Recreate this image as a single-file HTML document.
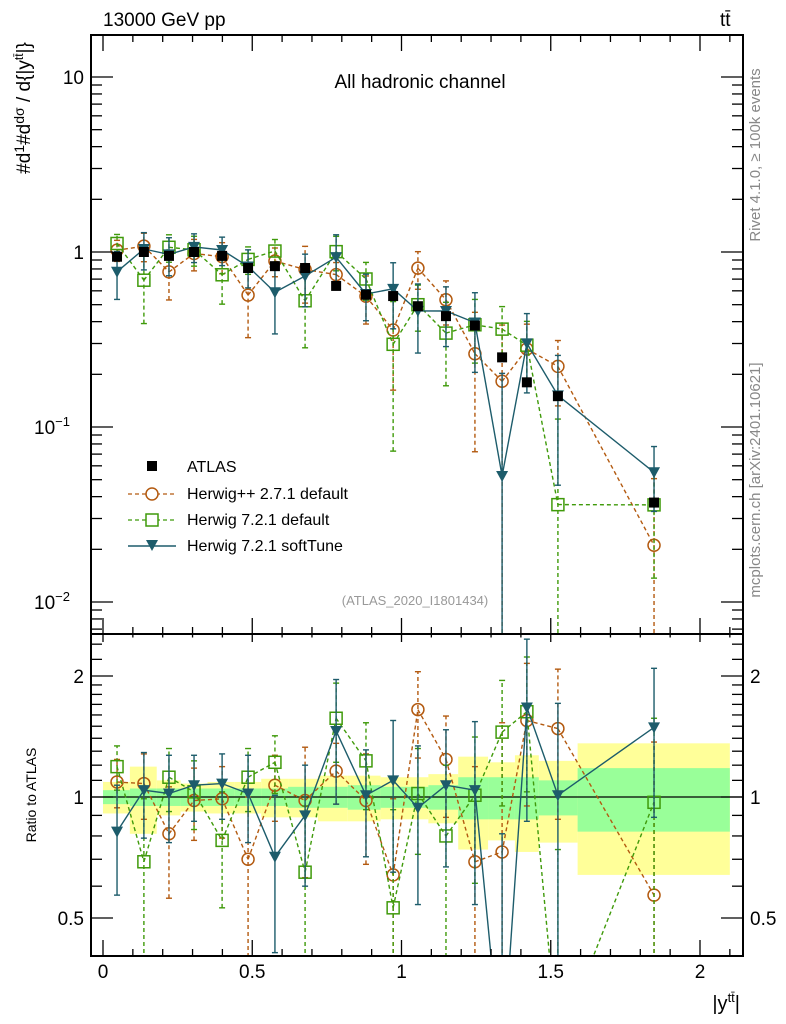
<!DOCTYPE html>
<html><head><meta charset="utf-8"><style>
html,body{margin:0;padding:0;background:#fff;width:786px;height:1024px;overflow:hidden;}
svg{display:block;font-family:"Liberation Sans",sans-serif;}
</style></head><body>
<svg id="c" width="786" height="1024" viewBox="0 0 786 1024">
<defs>
<clipPath id="cu"><rect x="91" y="35" width="652" height="599"/></clipPath>
<clipPath id="cl"><rect x="91" y="634" width="652" height="322"/></clipPath>
</defs>
<g id="bands" clip-path="url(#cl)"></g>
<g id="upper" clip-path="url(#cu)"></g>
<g id="lower" clip-path="url(#cl)"></g>
<g id="axes"></g>
<text x="103" y="26" font-size="19">13000 GeV pp</text>
<text x="720" y="26" font-size="19">tt̄</text>
<text x="420" y="88" font-size="19" text-anchor="middle">All hadronic channel</text>
<text x="415" y="605" font-size="13" fill="#999" text-anchor="middle">(ATLAS_2020_I1801434)</text>
<text transform="translate(760,155) rotate(-90)" font-size="15" fill="#888" text-anchor="middle">Rivet 4.1.0, ≥ 100k events</text>
<text transform="translate(760,480) rotate(-90)" font-size="15" fill="#888" text-anchor="middle">mcplots.cern.ch [arXiv:2401.10621]</text>
<text transform="translate(30,108) rotate(-90)" font-size="19" text-anchor="middle">#d<tspan font-size="14" dy="-6">1</tspan><tspan dy="6">#d</tspan><tspan font-size="14" dy="-6">dσ</tspan><tspan dy="6"> / d{|y</tspan><tspan font-size="12" dy="-7">tt̄</tspan><tspan dy="7">|}</tspan></text>
<text transform="translate(36,795) rotate(-90)" font-size="14" text-anchor="middle">Ratio to ATLAS</text>
<text x="740" y="1010" font-size="20" text-anchor="end">|y<tspan font-size="13" dy="-8">tt̄</tspan><tspan dy="8">|</tspan></text>
<g>
<rect x="147" y="461" width="10" height="10" fill="#000"/>
<text x="187" y="472" font-size="16">ATLAS</text>
<line x1="128" y1="494" x2="176" y2="494" stroke="#b35a10" stroke-dasharray="4,3" stroke-width="1.3"/>
<circle cx="152" cy="494" r="6" fill="#fff" stroke="#b35a10" stroke-width="1.5"/>
<text x="187" y="499" font-size="16">Herwig++ 2.7.1 default</text>
<line x1="128" y1="520" x2="176" y2="520" stroke="#3f9a0a" stroke-dasharray="4,3" stroke-width="1.3"/>
<rect x="146" y="514" width="12" height="12" fill="#fff" stroke="#3f9a0a" stroke-width="1.5"/>
<text x="187" y="525" font-size="16">Herwig 7.2.1 default</text>
<line x1="128" y1="546" x2="176" y2="546" stroke="#1d5c6b" stroke-width="1.5"/>
<path d="M146,540 L158,540 L152,551 Z" fill="#1d5c6b"/>
<text x="187" y="551" font-size="16">Herwig 7.2.1 softTune</text>
</g>
</svg>
<script>
const xCenters=[0.047,0.137,0.221,0.305,0.399,0.486,0.576,0.677,0.781,0.881,0.972,1.055,1.149,1.246,1.337,1.42,1.524,1.846];
const binEdges=[0,0.09,0.18,0.26,0.35,0.44,0.53,0.62,0.72,0.82,0.93,1.0,1.09,1.19,1.29,1.38,1.46,1.59,2.1];
const atlas=[0.94,1.0,0.95,1.0,0.95,0.81,0.83,0.81,0.64,0.57,0.56,0.49,0.43,0.38,0.25,0.18,0.15,0.037];
const statBand=[0.04,0.05,0.05,0.05,0.05,0.05,0.05,0.06,0.06,0.07,0.06,0.06,0.07,0.12,0.12,0.12,0.1,0.18];
const totBand=[0.09,0.19,0.1,0.08,0.09,0.09,0.11,0.11,0.13,0.13,0.12,0.12,0.14,0.26,0.22,0.27,0.23,0.36];
const ratioHpp=[1.09,1.08,0.81,0.98,0.99,0.70,1.07,0.98,1.16,0.98,0.64,1.65,1.24,0.69,0.73,1.55,1.48,0.57];
const errHpp=[0.15,0.2,0.25,0.2,0.2,0.3,0.2,0.35,0.2,0.3,0.35,0.4,0.35,0.5,0.8,0.6,0.6,0.8];
const ratioH7=[1.19,0.69,1.12,1.03,0.78,1.12,1.22,0.65,1.57,1.23,0.53,1.02,0.80,1.01,1.45,1.63,0.24,0.97];
const errH7=[0.15,0.3,0.2,0.2,0.25,0.2,0.2,0.3,0.35,0.3,0.4,0.3,0.4,0.4,0.5,0.6,0.5,0.6];
const ratioSoft=[0.82,1.04,1.02,1.07,1.08,1.02,0.71,0.90,1.46,1.01,1.10,0.94,1.07,1.04,0.21,1.67,1.01,1.49];
const errSoft=[0.25,0.25,0.25,0.2,0.2,0.25,0.3,0.3,0.5,0.3,0.45,0.4,0.4,0.5,0.6,0.8,0.7,0.6];
const xTicks=[0,0.5,1,1.5,2];
const xTickLabels=["0","0.5","1","1.5","2"];
const yTicks=[10,1,0.1,0.01];
const ratioTicks=[2,1,0.5];
const ratioTickLabels=["2","1","0.5"];

const NS="http://www.w3.org/2000/svg";
const X=v=>103+v*298.5;
const YU=v=>252-Math.log10(v)*175;
const YR=v=>797-Math.log2(v)*121;
const clampY=(y,lo,hi)=>Math.max(lo,Math.min(hi,y));
function mk(tag,attrs,parent){const e=document.createElementNS(NS,tag);for(const k in attrs)e.setAttribute(k,attrs[k]);parent.appendChild(e);return e;}
const gB=document.getElementById('bands'),gU=document.getElementById('upper'),gL=document.getElementById('lower'),gA=document.getElementById('axes');

for(let i=0;i<xCenters.length;i++){
  const x0=X(binEdges[i]),x1=X(binEdges[i+1]);
  const y=mk('rect',{x:x0,y:YR(1+totBand[i]),width:x1-x0,height:YR(1-totBand[i])-YR(1+totBand[i]),fill:'#ffff99'},gB);
  
  
}
for(let i=0;i<xCenters.length;i++){
  const x0=X(binEdges[i]),x1=X(binEdges[i+1]);
  const g=mk('rect',{x:x0,y:YR(1+statBand[i]),width:x1-x0,height:YR(1-statBand[i])-YR(1+statBand[i]),fill:'#99ff99'},gB);
  
  
}
mk('line',{x1:91,x2:743,y1:YR(1),y2:YR(1),stroke:'#000','stroke-width':1.3},gB);

const series=[
 {r:ratioHpp,e:errHpp,c:'#b35a10',dash:'4,3',m:'circle',name:'herwigpp'},
 {r:ratioH7,e:errH7,c:'#3f9a0a',dash:'4,3',m:'square',name:'herwig7-default'},
 {r:ratioSoft,e:errSoft,c:'#1d5c6b',dash:'',m:'tri',name:'herwig7-softtune'}
];
function marker(g,m,x,y,c,nm){
  if(y>1000||y<0)return;
  let el;
  if(m==='circle')el=mk('circle',{cx:x,cy:y,r:6,fill:'none',stroke:c,'stroke-width':1.5},g);
  else if(m==='square')el=mk('rect',{x:x-6,y:y-6,width:12,height:12,fill:'none',stroke:c,'stroke-width':1.5},g);
  else el=mk('path',{d:`M${x-6},${y-5} L${x+6},${y-5} L${x},${y+6} Z`,fill:c},g);
  
  
}
function clipSeg(x1,y1,x2,y2,ymax){
  if(y1>ymax&&y2>ymax)return null;
  if(y1>ymax){const t=(ymax-y1)/(y2-y1);x1=x1+t*(x2-x1);y1=ymax;}
  if(y2>ymax){const t=(ymax-y1)/(y2-y1);x2=x1+t*(x2-x1);y2=ymax;}
  return [x1,y1,x2,y2];
}
function drawSeries(g,vals,errs,Y,s,kind,yLo,yHi){
  let d='';
  for(let i=0;i<vals.length-1;i++){
    const c=clipSeg(X(xCenters[i]),Y(vals[i]),X(xCenters[i+1]),Y(vals[i+1]),1000);
    if(c)d+=`M${c[0].toFixed(1)},${c[1].toFixed(1)} L${c[2].toFixed(1)},${c[3].toFixed(1)} `;
  }
  const pl=mk('path',{d:d,fill:'none',stroke:s.c,'stroke-width':1.4,'stroke-dasharray':s.dash},g);
  
  
  vals.forEach((v,i)=>{
    const x=X(xCenters[i]);
    const lo=Math.max(v-errs[i],1e-4),hi=v+errs[i];
    const yl=clampY(Y(lo),yLo,yHi),yh=clampY(Y(hi),yLo,yHi);
    const eb=mk('line',{x1:x,x2:x,y1:yl,y2:yh,stroke:s.c,'stroke-width':1.4,'stroke-dasharray':s.dash},g);
    
    
    mk('line',{x1:x-3,x2:x+3,y1:yh,y2:yh,stroke:s.c,'stroke-width':1.4},g);
    mk('line',{x1:x-3,x2:x+3,y1:yl,y2:yl,stroke:s.c,'stroke-width':1.4},g);
  });
  vals.forEach((v,i)=>marker(g,s.m,X(xCenters[i]),Y(v),s.c,s.name+'-'+kind+'-point'));
}
series.forEach(s=>{
  const upVals=s.r.map((r,i)=>r*atlas[i]);
  const upErr=s.e.map((e,i)=>e*atlas[i]);
  drawSeries(gU,upVals,upErr,YU,s,'upper',30,640);
  drawSeries(gL,s.r,s.e,YR,s,'ratio',630,960);
});
atlas.forEach((v,i)=>{
  const r=mk('rect',{x:X(xCenters[i])-5,y:YU(v)-5,width:10,height:10,fill:'#000'},gU);
  
  
});

mk('rect',{x:91,y:35,width:652,height:599,fill:'none',stroke:'#000','stroke-width':2},gA);
mk('rect',{x:91,y:634,width:652,height:322,fill:'none',stroke:'#000','stroke-width':2},gA);
for(let v=0;v<=2.12;v+=0.1){
  const major=Math.abs(v*2-Math.round(v*2))<1e-6;
  const len=major?16:7,x=X(v);
  if(x>743)break;
  mk('line',{x1:x,x2:x,y1:956,y2:956-len,stroke:'#000','stroke-width':1.3},gA);
  mk('line',{x1:x,x2:x,y1:634,y2:634-len,stroke:'#000','stroke-width':1.3},gA);
  mk('line',{x1:x,x2:x,y1:634,y2:634+len/2,stroke:'#000','stroke-width':1.3},gA);
  mk('line',{x1:x,x2:x,y1:35,y2:35+len,stroke:'#000','stroke-width':1.3},gA);
}
xTicks.forEach((v,i)=>{
  const t=mk('text',{x:X(v),y:978,'font-size':19,'text-anchor':'middle'},gA);
  t.textContent=xTickLabels[i];
  
  
});
for(let d=-3;d<=1;d++){
  for(let m=1;m<=9;m++){
    const v=m*Math.pow(10,d),y=YU(v);
    if(y<35||y>634)continue;
    const len=m===1?22:11;
    mk('line',{x1:91,x2:91+len,y1:y,y2:y,stroke:'#000','stroke-width':1.3},gA);
    mk('line',{x1:743,x2:743-len,y1:y,y2:y,stroke:'#000','stroke-width':1.3},gA);
  }
}
const yl=[["10",""],["1",""],["10","−1"],["10","−2"]];
yTicks.forEach((v,i)=>{
  const t=mk('text',{x:84,y:YU(v)+7,'font-size':19,'text-anchor':'end'},gA);
  
  
  if(yl[i][1]){t.setAttribute('x',70);t.innerHTML=yl[i][0]+'<tspan font-size="13" dy="-8">'+yl[i][1]+'</tspan>';}
  else t.textContent=yl[i][0];
});
const rMinor=[0.4,0.5,0.6,0.7,0.8,0.9,1,1.1,1.2,1.3,1.4,1.5,1.6,1.7,1.8,1.9,2,2.2,2.4];
rMinor.forEach(v=>{
  const y=YR(v);if(y<634||y>956)return;
  const len=ratioTicks.indexOf(v)>=0?22:11;
  mk('line',{x1:91,x2:91+len,y1:y,y2:y,stroke:'#000','stroke-width':1.3},gA);
  mk('line',{x1:743,x2:743-len,y1:y,y2:y,stroke:'#000','stroke-width':1.3},gA);
});
ratioTicks.forEach((v,i)=>{
  const t=mk('text',{x:84,y:YR(v)+7,'font-size':19,'text-anchor':'end'},gA);
  t.textContent=ratioTickLabels[i];
  
  
  const t2=mk('text',{x:750,y:YR(v)+7,'font-size':19},gA);
  t2.textContent=ratioTickLabels[i];
  
  
});
</script>
</body></html>
